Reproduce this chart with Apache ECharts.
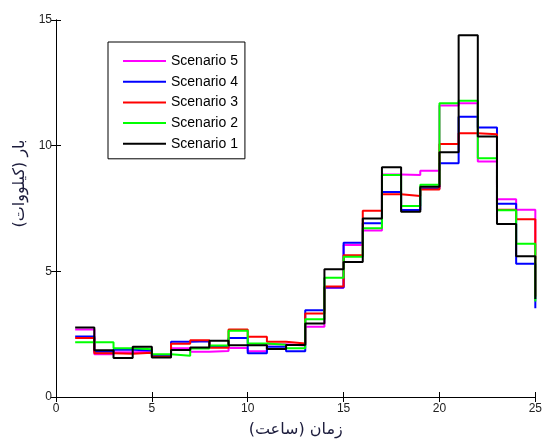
<!DOCTYPE html>
<html><head><meta charset="utf-8">
<script src="https://cdn.jsdelivr.net/npm/echarts@6/dist/echarts.min.js"></script>
<style>html,body{margin:0;padding:0;background:#fff}#c{width:545px;height:443px}</style>
</head><body><div id="c"></div>
<script>
var hours = [1,2,3,4,5,6,7,8,9,10,11,12,13,14,15,16,17,18,19,20,21,22,23,24,25];
var scenario1 = [2.77,1.86,1.55,2.0,1.57,1.87,1.97,2.24,2.06,2.06,1.91,2.07,2.92,5.08,5.37,7.10,9.14,7.37,8.37,9.74,14.39,10.36,6.88,5.60,3.9];
var scenario2 = [2.18,2.18,1.94,1.9,1.70,1.64,1.93,2.05,2.64,2.13,2.08,1.94,3.09,4.74,5.58,6.71,8.83,7.60,8.44,11.69,11.79,9.50,7.43,6.10,3.8];
var scenario3 = [2.35,1.74,1.72,1.76,1.60,2.12,2.26,1.96,2.69,2.40,2.20,2.13,3.32,4.40,5.64,7.41,8.07,8.0,8.26,10.07,10.49,10.45,7.45,7.07,4.0];
var scenario4 = [2.41,1.80,1.88,1.85,1.66,2.20,2.22,2.0,2.35,1.74,2.0,1.82,3.45,4.36,6.14,6.91,8.16,7.44,8.30,9.30,11.15,10.72,7.69,5.30,3.53];
var scenario5 = [2.69,1.70,1.78,1.80,1.62,1.94,1.80,1.83,1.95,1.82,2.10,2.05,2.80,4.35,6.05,6.62,8.85,8.83,9.0,11.6,11.69,9.37,7.87,7.45,5.5];
var xTicks = [0,5,10,15,20,25];
var yTicks = [0,5,10,15];
var names = ['Scenario 5','Scenario 4','Scenario 3','Scenario 2','Scenario 1'];
var colors = ['#ff00ff','#0000ff','#ff0000','#00ff00','#000000'];
var values = [scenario5, scenario4, scenario3, scenario2, scenario1];

function pairs(v){ return hours.map(function(h,i){ return [h, v[i]]; }); }

var chart = echarts.init(document.getElementById('c'));
var axisCommon = {
  axisLine:{show:true, lineStyle:{color:'#000', width:1}},
  axisTick:{show:true, inside:true, length:5, lineStyle:{color:'#000'}},
  splitLine:{show:false}
};
chart.setOption({
  animation:false,
  backgroundColor:'#fff',
  grid:{left:56, right:7, top:20, bottom:46},
  legend:{
    data:names, orient:'vertical', left:108, top:42,
    padding:[12,7,8,15], itemGap:6.7, itemWidth:43, itemHeight:14,
    icon:'path://M0,0 L43,0 L43,2 L0,2 Z',
    borderColor:'#000', borderWidth:1, backgroundColor:'#fff',
    textStyle:{fontFamily:'Liberation Sans', fontSize:14, color:'#000', lineHeight:14}
  },
  xAxis:[
    Object.assign({type:'value', min:0, max:25, interval:5, position:'bottom',
      name:'زمان (ساعت)', nameLocation:'middle', nameGap:25,
      nameTextStyle:{fontFamily:'DejaVu Sans', fontSize:16, color:'#1c1c3c'},
      axisLabel:{fontFamily:'Liberation Sans', fontSize:12, color:'#222', margin:6}}, axisCommon),
    Object.assign({type:'value', min:0, max:25, interval:5, position:'top',
      axisLabel:{show:false}}, axisCommon)
  ],
  yAxis:[
    Object.assign({type:'value', min:0, max:15, interval:5, position:'left',
      name:'بار (کیلووات)', nameLocation:'middle', nameGap:22,
      nameTextStyle:{fontFamily:'DejaVu Sans', fontSize:16, color:'#1c1c3c', padding:[0,0,0,50]},
      axisLabel:{fontFamily:'Liberation Sans', fontSize:12, color:'#222', margin:4}}, axisCommon),
    Object.assign({type:'value', min:0, max:15, interval:5, position:'right',
      axisLabel:{show:false}}, axisCommon)
  ],
  series: names.map(function(n,i){
    return {name:n, type:'line', step:'end', data:pairs(values[i]),
      symbol:'none', showSymbol:false, color:colors[i],
      lineStyle:{color:colors[i], width:2}, z:2+i};
  })
});
</script></body></html>
